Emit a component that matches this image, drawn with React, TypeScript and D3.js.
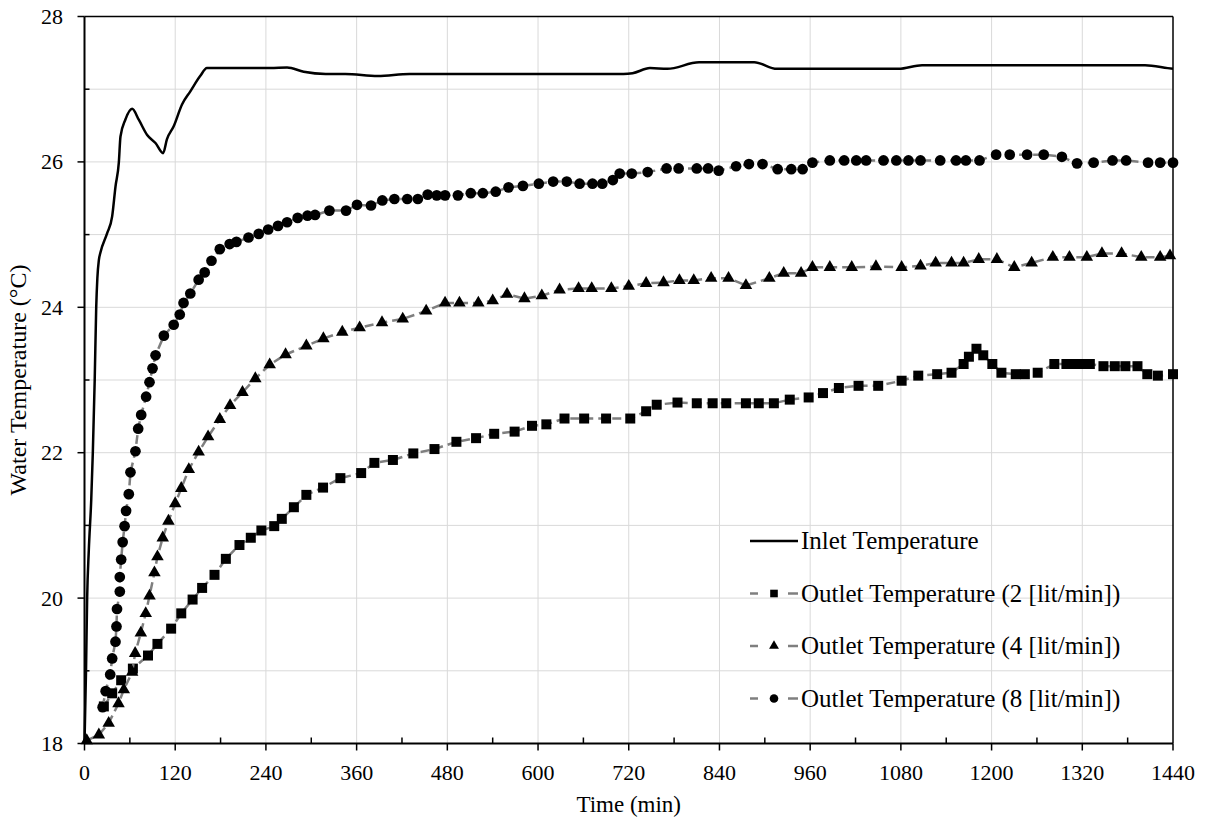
import * as d3 from 'd3';

// time (min), temperature (°C)
const inletData: [number, number][] = [
  [0, 18.0], [2, 19.0], [3.5, 20.0], [5.7, 20.66], [8.9, 21.35], [11, 22.0], [13.5, 23.0],
  [15.5, 24.0], [17, 24.4], [19, 24.65], [21, 24.75], [30, 25.02], [36.6, 25.25], [41, 25.66],
  [45.4, 25.99], [47.6, 26.35], [54, 26.58], [63, 26.73], [71.8, 26.58], [82.9, 26.37],
  [93.9, 26.26], [104, 26.12], [109, 26.31], [118, 26.49], [129, 26.79], [140, 26.97],
  [153, 27.18], [162, 27.29], [175, 27.29], [246, 27.29], [268, 27.3], [290, 27.24],
  [319, 27.21], [345, 27.21], [388, 27.18], [430, 27.21], [713, 27.21], [725, 27.22],
  [748, 27.29], [771, 27.28], [813, 27.37], [886, 27.37], [916, 27.28], [1077, 27.28],
  [1108, 27.33], [1403, 27.33], [1433, 27.29], [1440, 27.28],
];

const outlet2Data: [number, number][] = [
  [25.6, 18.51], [36.6, 18.69], [48.5, 18.87], [64, 19.03], [84, 19.21], [96.5, 19.37],
  [114.6, 19.58], [128, 19.79], [143, 19.98], [155.6, 20.14], [172, 20.32], [187, 20.54],
  [205, 20.73], [220, 20.83], [234, 20.93], [251, 20.99], [261, 21.09], [277, 21.25],
  [293.5, 21.42], [315.6, 21.52], [338.5, 21.65], [366, 21.72], [383.5, 21.86], [408, 21.9],
  [435, 21.99], [463, 22.05], [492, 22.15], [518, 22.2], [542, 22.26], [569, 22.29],
  [592, 22.37], [611, 22.39], [635, 22.47], [661, 22.47], [690, 22.47], [722, 22.47],
  [743, 22.57], [757, 22.66], [784.5, 22.69], [810, 22.68], [831, 22.68], [849, 22.68],
  [875, 22.68], [892, 22.68], [912, 22.68], [933, 22.73], [958, 22.76], [977, 22.82],
  [998, 22.89], [1024, 22.92], [1050, 22.92], [1081, 22.99], [1103, 23.06], [1128, 23.08],
  [1147, 23.1], [1163, 23.22], [1170, 23.32], [1180, 23.43], [1189, 23.34], [1201, 23.22],
  [1213, 23.1], [1232, 23.08], [1244, 23.08], [1261, 23.1], [1283, 23.22], [1299, 23.22],
  [1310, 23.22], [1321, 23.22], [1330, 23.22], [1348, 23.19], [1363, 23.19], [1377, 23.19],
  [1393, 23.19], [1406, 23.08], [1420, 23.06], [1440, 23.08],
];

const outlet4Data: [number, number][] = [
  [3, 18.04], [19, 18.12], [32, 18.28], [45, 18.55], [52, 18.74], [63, 18.98], [67, 19.24],
  [74.5, 19.52], [81, 19.79], [86, 20.03], [92.5, 20.35], [96.5, 20.57], [103.5, 20.83],
  [111, 21.06], [120, 21.3], [128, 21.51], [138, 21.77], [151, 22.01], [163.5, 22.22],
  [179, 22.46], [192.6, 22.65], [209, 22.83], [226, 23.02], [245, 23.21], [266, 23.35],
  [293.5, 23.47], [316, 23.57], [341, 23.66], [364, 23.72], [393.6, 23.79], [421, 23.84],
  [452, 23.95], [477, 24.06], [496, 24.06], [521, 24.06], [540, 24.09], [559, 24.18],
  [582, 24.12], [605, 24.16], [628.5, 24.24], [653.6, 24.26], [671, 24.26], [697, 24.26],
  [720, 24.29], [743, 24.33], [766, 24.34], [787, 24.37], [806, 24.37], [829, 24.4],
  [852, 24.4], [875, 24.3], [906, 24.4], [925, 24.47], [948, 24.47], [963, 24.55],
  [986, 24.55], [1015, 24.55], [1047, 24.56], [1081, 24.55], [1106, 24.57], [1126, 24.61],
  [1147, 24.61], [1163, 24.61], [1183, 24.66], [1207, 24.66], [1230, 24.55], [1253, 24.61],
  [1281, 24.69], [1303, 24.69], [1326, 24.69], [1346, 24.74], [1372, 24.74], [1398, 24.69],
  [1423, 24.69], [1436, 24.71],
];

const outlet8Data: [number, number][] = [
  [24, 18.5], [28, 18.72], [34, 18.95], [36.6, 19.17], [41, 19.4], [42.3, 19.61],
  [43, 19.85], [46.7, 20.09], [46.7, 20.29], [48.5, 20.53], [50.5, 20.77], [53, 20.99],
  [55, 21.2], [58.6, 21.43], [60.8, 21.73], [67.4, 22.02], [71, 22.33], [75, 22.52],
  [81.5, 22.77], [86, 22.97], [90, 23.16], [94, 23.34], [105, 23.61], [118, 23.76],
  [126, 23.9], [131, 24.06], [140, 24.19], [151, 24.38], [159, 24.48], [168, 24.64],
  [179, 24.8], [192, 24.87], [201, 24.9], [217, 24.96], [230.5, 25.01], [243, 25.07],
  [256, 25.12], [268, 25.17], [282, 25.23], [295, 25.26], [305, 25.27], [324, 25.33],
  [346, 25.33], [360.5, 25.41], [379, 25.4], [394, 25.47], [410, 25.49], [427, 25.49],
  [441, 25.49], [454, 25.55], [466, 25.54], [477, 25.54], [494, 25.54], [511, 25.57],
  [527, 25.57], [544, 25.59], [561, 25.65], [580, 25.67], [601, 25.7], [620, 25.73],
  [638, 25.73], [655, 25.7], [672, 25.7], [685, 25.7], [699, 25.75], [708, 25.84],
  [724, 25.84], [745, 25.86], [770, 25.91], [786, 25.91], [810, 25.91], [825, 25.91],
  [839, 25.88], [862, 25.94], [879, 25.97], [897, 25.97], [917, 25.9], [935, 25.9],
  [950, 25.9], [963, 25.99], [986, 26.02], [1005, 26.02], [1021, 26.02], [1034, 26.02],
  [1057, 26.02], [1074, 26.02], [1090, 26.02], [1106, 26.02], [1132, 26.02], [1153, 26.02],
  [1166, 26.02], [1184, 26.02], [1206, 26.1], [1224, 26.1], [1247, 26.1], [1269, 26.1],
  [1293, 26.07], [1313, 25.98], [1335, 25.99], [1360, 26.02], [1378, 26.02], [1407, 25.99],
  [1423, 25.99], [1440, 25.99],
];

const xTicks = [0, 120, 240, 360, 480, 600, 720, 840, 960, 1080, 1200, 1320, 1440];
const yTicks = [18, 20, 22, 24, 26, 28];

const legendLabels = [
  'Inlet Temperature',
  'Outlet Temperature (2 [lit/min])',
  'Outlet Temperature (4 [lit/min])',
  'Outlet Temperature (8 [lit/min])',
];

const FONT = "'Liberation Serif', 'DejaVu Serif', serif";

export default function App() {
  const x = d3.scaleLinear().domain([0, 1440]).range([84.5, 1173]);
  const y = d3.scaleLinear().domain([18, 28]).range([743.5, 16.5]);

  const inletLine = d3
    .line<[number, number]>()
    .x((d) => x(d[0]))
    .y((d) => y(d[1]))
    .curve(d3.curveMonotoneX);

  const outletLine = d3
    .line<[number, number]>()
    .x((d) => x(d[0]))
    .y((d) => y(d[1]));

  const square = d3.symbol().type(d3.symbolSquare).size(100)()!;
  const triangle = d3.symbol().type(d3.symbolTriangle).size(68)()!;
  const circle = d3.symbol().type(d3.symbolCircle).size(90)()!;
  const squareSm = d3.symbol().type(d3.symbolSquare).size(58)()!;
  const triangleSm = d3.symbol().type(d3.symbolTriangle).size(42)()!;
  const circleSm = d3.symbol().type(d3.symbolCircle).size(58)()!;

  const outlets = [
    { data: outlet2Data, shape: square, legendShape: squareSm },
    { data: outlet4Data, shape: triangle, legendShape: triangleSm },
    { data: outlet8Data, shape: circle, legendShape: circleSm },
  ];

  const [x0, x1] = x.range();
  const [y0, y1] = y.range();
  const minorX = d3.range(60, 1440, 120);
  const minorY = d3.range(19, 28, 2);
  const gridY = d3.range(19, 28, 1);

  return (
    <svg
      width={1209}
      height={823}
      style={{ position: 'absolute', left: 0, top: 0, background: '#fff', fontFamily: FONT }}
    >
      {/* grid */}
      <g stroke="#d9d9d9" strokeWidth={1}>
        {xTicks.slice(1, -1).map((t) => (
          <line key={'gx' + t} x1={x(t)} x2={x(t)} y1={y1} y2={y0} />
        ))}
        {gridY.map((t) => (
          <line key={'gy' + t} x1={x0} x2={x1} y1={y(t)} y2={y(t)} />
        ))}
      </g>

      {/* plot border */}
      <line x1={x0} x2={x1} y1={y1} y2={y1} stroke="#000" strokeWidth={1.5} />
      <line x1={x1} x2={x1} y1={y1} y2={y0} stroke="#000" strokeWidth={1.5} />

      {/* series */}
      <path d={inletLine(inletData)!} fill="none" stroke="#000" strokeWidth={2.5} />
      {outlets.map((s, i) => (
        <g key={'s' + i}>
          <path
            d={outletLine(s.data)!}
            fill="none"
            stroke="#7f7f7f"
            strokeWidth={2.5}
            strokeDasharray="9 5"
          />
          {s.data.map((d, j) => (
            <path key={j} d={s.shape} transform={`translate(${x(d[0])},${y(d[1])})`} fill="#000" />
          ))}
        </g>
      ))}

      {/* axes */}
      <line x1={x0} x2={x0} y1={y1} y2={y0} stroke="#000" strokeWidth={2} />
      <line x1={x0} x2={x1} y1={y0} y2={y0} stroke="#000" strokeWidth={2} />
      <g stroke="#000" strokeWidth={1.5}>
        {xTicks.map((t) => (
          <line key={'tx' + t} x1={x(t)} x2={x(t)} y1={y0} y2={y0 + 7} />
        ))}
        {minorX.map((t) => (
          <line key={'mx' + t} x1={x(t)} x2={x(t)} y1={y0} y2={y0 - 6} />
        ))}
        {yTicks.map((t) => (
          <line key={'ty' + t} x1={x0 - 7} x2={x0} y1={y(t)} y2={y(t)} />
        ))}
        {minorY.map((t) => (
          <line key={'my' + t} x1={x0} x2={x0 + 5} y1={y(t)} y2={y(t)} />
        ))}
      </g>

      <g fontSize={22} fill="#000">
        {xTicks.map((t) => (
          <text key={'lx' + t} x={x(t)} y={y0 + 36} textAnchor="middle">
            {t}
          </text>
        ))}
        {yTicks.map((t) => (
          <text key={'ly' + t} x={63} y={y(t) + 7.5} textAnchor="end">
            {t}
          </text>
        ))}
      </g>

      <text x={(x0 + x1) / 2} y={812} textAnchor="middle" fontSize={23}>
        Time (min)
      </text>
      <text
        transform={`translate(26,${(y0 + y1) / 2}) rotate(-90)`}
        textAnchor="middle"
        fontSize={24}
      >
        Water Temperature (°C)
      </text>

      {/* legend */}
      <g fontSize={25}>
        <line x1={750} x2={798} y1={541} y2={541} stroke="#000" strokeWidth={2.5} />
        <text x={801} y={549}>
          {legendLabels[0]}
        </text>
        {outlets.map((s, i) => {
          const ly = 593.5 + i * 52.5;
          return (
            <g key={'lg' + i}>
              <line x1={750} x2={758} y1={ly} y2={ly} stroke="#7f7f7f" strokeWidth={2.5} />
              <line x1={788} x2={798} y1={ly} y2={ly} stroke="#7f7f7f" strokeWidth={2.5} />
              <path d={s.legendShape} transform={`translate(774,${ly})`} fill="#000" />
              <text x={801} y={ly + 8}>
                {legendLabels[i + 1]}
              </text>
            </g>
          );
        })}
      </g>
    </svg>
  );
}
